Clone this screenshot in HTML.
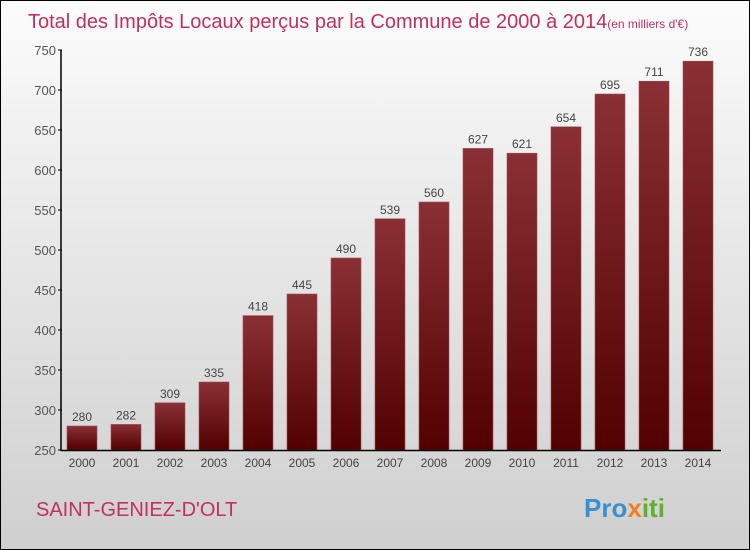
<!DOCTYPE html>
<html><head><meta charset="utf-8"><style>
body{margin:0}
#c{position:relative;width:748px;height:548px;border:1px solid #000;background:linear-gradient(#fcfcfc,#f0f0f0 25%,#dadada 75%,#cfcfcf);overflow:hidden;font-family:"Liberation Sans",sans-serif}
</style></head><body>
<div id="c">
<svg id="s" width="748" height="548">
<defs><linearGradient id="g" x1="0" y1="0" x2="0" y2="1"><stop offset="0" stop-color="#8a3035"/><stop offset="1" stop-color="#520000"/></linearGradient></defs>
<text x="27" y="27" font-size="20" fill="#c2305c">Total des Impôts Locaux perçus par la Commune de 2000 à 2014<tspan font-size="12">(en milliers d'€)</tspan></text>
<text x="35" y="515" font-size="20" fill="#c2305c">SAINT-GENIEZ-D'OLT</text>
<text x="583" y="516" font-size="26" font-weight="bold" fill="#3a8fd0">Pro<tspan fill="#f08020">x</tspan><tspan fill="#60b030">iti</tspan></text>
</svg>
</div>
<script>
const years=["2000","2001","2002","2003","2004","2005","2006","2007","2008","2009","2010","2011","2012","2013","2014"];
const values=[280,282,309,335,418,445,490,539,560,627,621,654,695,711,736];
const ticks=[250,300,350,400,450,500,550,600,650,700,750];
const s=document.getElementById('s'),NS="http://www.w3.org/2000/svg";
const y=v=>449-(v-250)*0.8, x=i=>81+i*44;
function el(t,a,txt){const e=document.createElementNS(NS,t);for(const k in a)e.setAttribute(k,a[k]);if(txt!=null)e.textContent=txt;s.appendChild(e);return e;}
ticks.forEach(t=>{
 const l=el('line',{x1:57,x2:61,y1:y(t),y2:y(t),stroke:'#000'});
 
 
 const tx=el('text',{x:55,y:y(t)+5,'text-anchor':'end','font-size':13,fill:'#555'},t);
 
 
});
years.forEach((yr,i)=>{
 const b=el('rect',{x:x(i)-15,y:y(values[i]),width:30,height:449-y(values[i]),fill:'url(#g)',stroke:'#9a5055','stroke-width':0.6});
 
 
 const v=el('text',{x:x(i),y:y(values[i])-5,'text-anchor':'middle','font-size':12,fill:'#444'},values[i]);
 
 
 const xl=el('text',{x:x(i),y:466,'text-anchor':'middle','font-size':12,fill:'#444'},yr);
 
 
});
const ax=el('line',{x1:60,x2:60,y1:y(750),y2:450,stroke:'#000','stroke-width':1.5});


const bx=el('line',{x1:60,x2:720,y1:449.5,y2:449.5,stroke:'#000','stroke-width':1.5});


</script>
</body></html>
